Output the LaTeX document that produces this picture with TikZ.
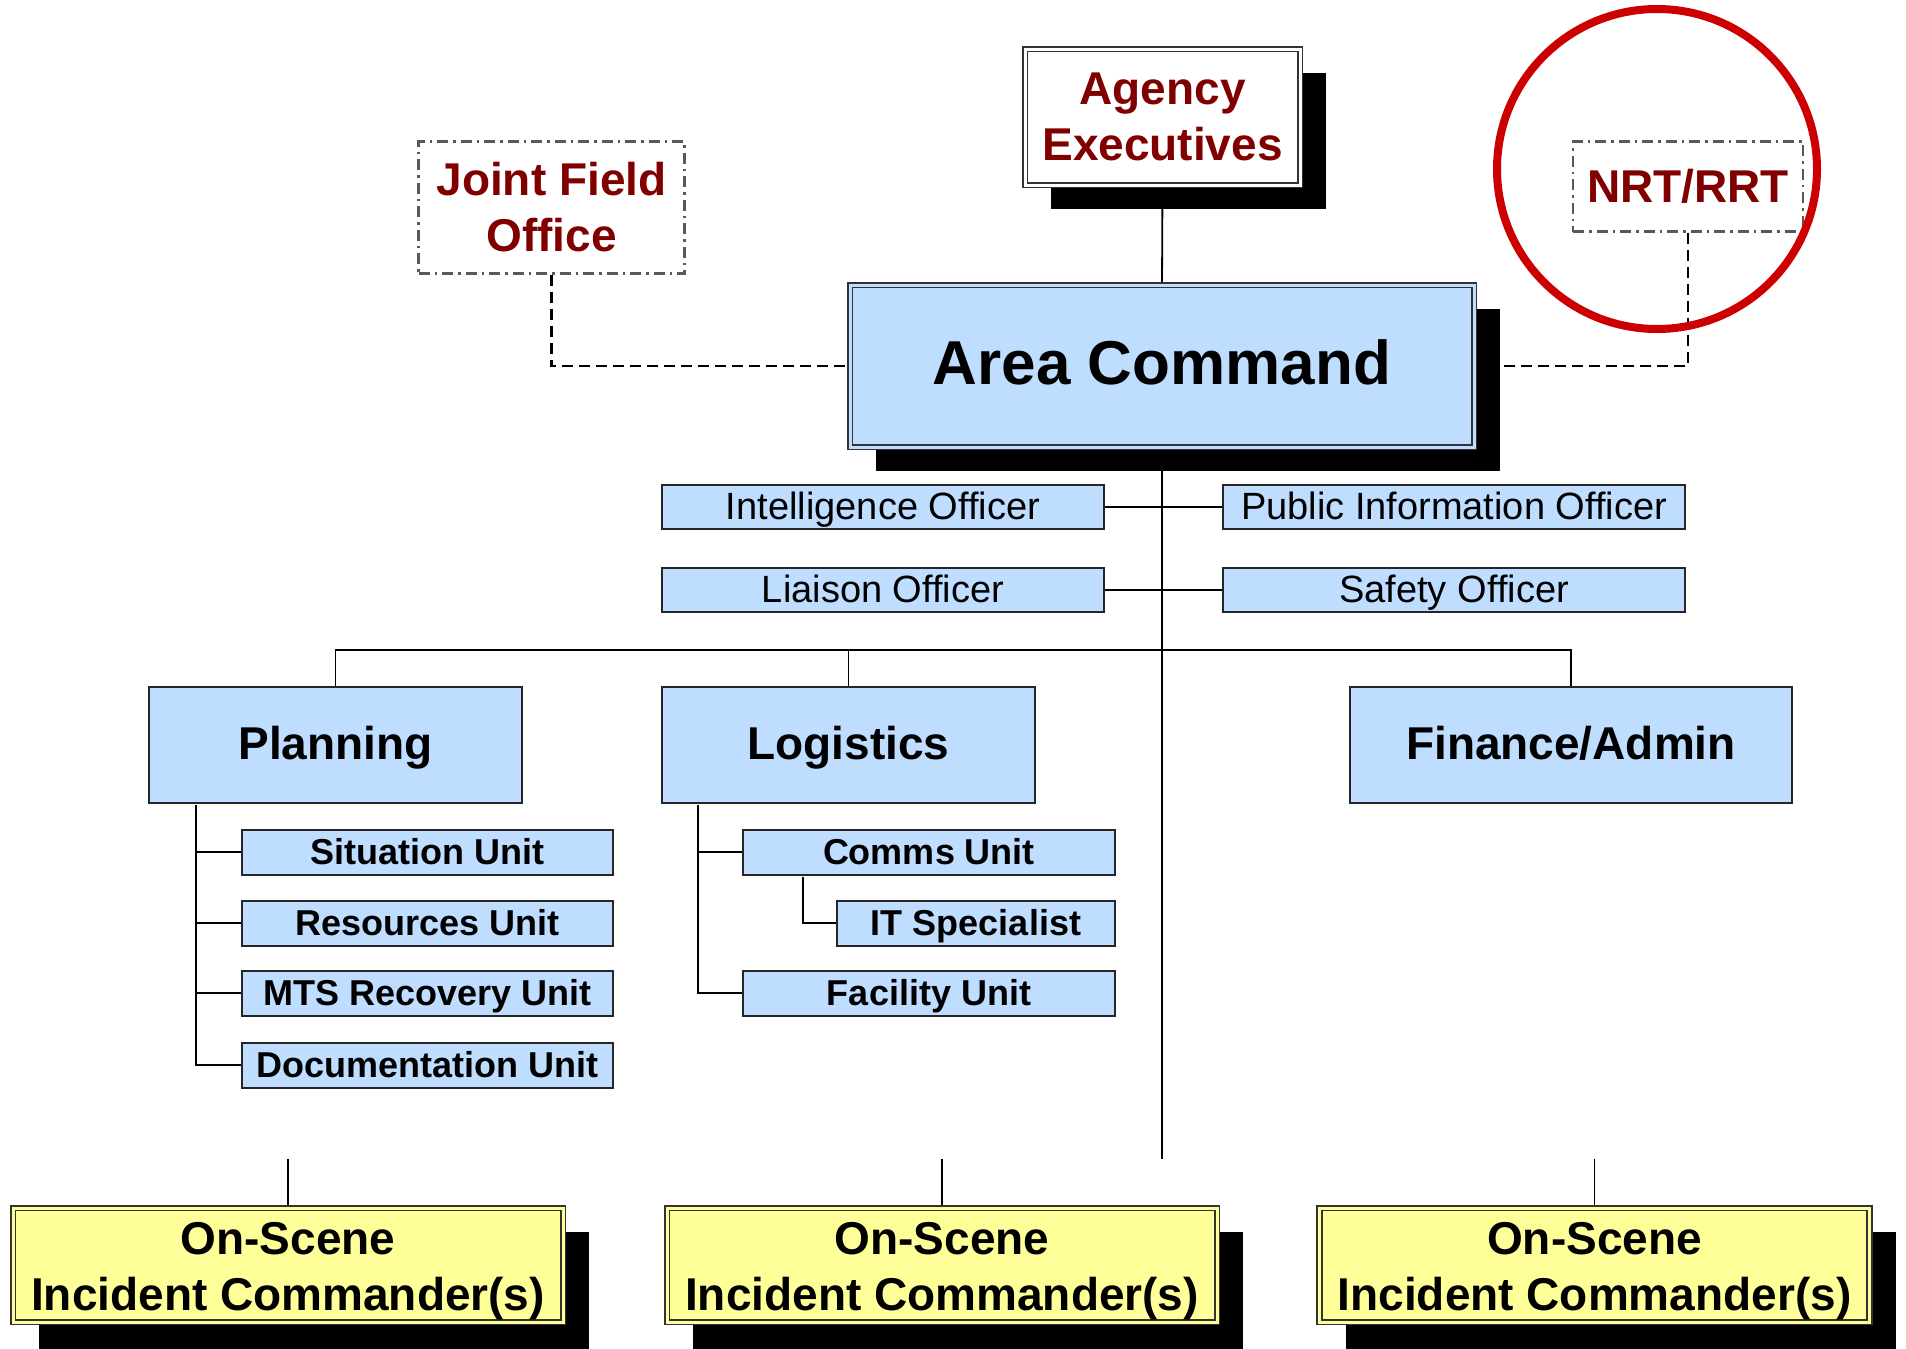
\documentclass[tikz,border=0pt]{standalone}
\usepackage{fontspec}
\setmainfont{Liberation Sans}
\usetikzlibrary{shadows}
\definecolor{boxblue}{RGB}{191,222,255}
\definecolor{boxyellow}{RGB}{255,255,153}
\definecolor{darkred}{RGB}{128,0,0}
\definecolor{circred}{RGB}{204,0,0}
\pgfdeclarelayer{bg}
\pgfsetlayers{bg,main}
\tikzset{
  conn/.style={draw=black, line width=1.8pt},
  dashconn/.style={draw=black, line width=2.5pt, dash pattern=on 11pt off 6pt},
  dotbox/.style={draw=black!65, line width=2.5pt, dash pattern=on 11pt off 5pt on 2.5pt off 5pt,
    fill=white, align=center, text=darkred, inner sep=0pt,
    font=\fontsize{46}{56}\selectfont\bfseries},
  blkshadow/.style={general shadow={fill=black, shadow xshift=26pt, shadow yshift=-24pt}},
  dblbox/.style={draw=black!80, line width=1.6pt, double distance=3pt, inner sep=0pt,
    align=center, blkshadow},
  offbox/.style={draw=black!85, line width=2pt, fill=boxblue, inner sep=0pt,
    font=\fontsize{38}{42}\selectfont, minimum height=44pt, text height=30pt, text depth=5pt},
  unitbox/.style={draw=black!85, line width=2pt, fill=boxblue, inner sep=0pt,
    font=\fontsize{36}{40}\selectfont\bfseries, minimum height=45pt, text height=29pt, text depth=5pt},
  secbox/.style={draw=black!85, line width=2pt, fill=boxblue, inner sep=0pt,
    font=\fontsize{46}{50}\selectfont\bfseries, minimum height=116pt, text height=36pt, text depth=7pt},
  osbox/.style={dblbox, general shadow={fill=black, shadow xshift=26pt, shadow yshift=-28pt},
    fill=boxyellow, double=boxyellow, minimum width=550pt, minimum height=114pt,
    text height=100pt, text depth=10pt,
    font=\fontsize{46}{56}\selectfont\bfseries}
}
\begin{document}
\begin{tikzpicture}[x=1pt, y=-1pt]
\useasboundingbox (0,0) rectangle (1906,1349);

% top level
\node[dblbox, fill=white, double=white, text=darkred, font=\fontsize{46}{56}\selectfont\bfseries,
  minimum width=275pt, minimum height=136pt] (ae) at (1162.5,117) {Agency\\Executives};
\node[dotbox, minimum width=266pt, minimum height=132pt] (jfo) at (551.5,207.5) {Joint Field\\Office};
\node[dotbox, minimum width=230pt, minimum height=90pt] (nrt) at (1688,186.5) {NRT/RRT};
\node[dblbox, fill=boxblue, double=boxblue, font=\fontsize{62}{70}\selectfont\bfseries,
  text height=45pt, text depth=8pt,
  minimum width=624pt, minimum height=162pt] (ac) at (1162,366) {Area Command};

% officers
\node[offbox, minimum width=442pt] (intel) at (883,507) {Intelligence Officer};
\node[offbox, minimum width=462pt] (pio) at (1454,507) {Public Information Officer};
\node[offbox, minimum width=442pt] (liai) at (883,590) {Liaison Officer};
\node[offbox, minimum width=462pt] (safe) at (1454,590) {Safety Officer};

% sections
\node[secbox, minimum width=373pt] (plan) at (335.5,745) {Planning};
\node[secbox, minimum width=373pt] (log) at (848.5,745) {Logistics};
\node[secbox, minimum width=442pt] (fin) at (1571,745) {Finance/Admin};

% planning units
\node[unitbox, minimum width=371pt] (sit) at (427.5,852) {Situation Unit};
\node[unitbox, minimum width=371pt] (res) at (427.5,923) {Resources Unit};
\node[unitbox, minimum width=371pt] (mts) at (427.5,993) {MTS Recovery Unit};
\node[unitbox, minimum width=371pt] (doc) at (427.5,1065) {Documentation Unit};

% logistics units
\node[unitbox, minimum width=372pt] (comms) at (929,852) {Comms Unit};
\node[unitbox, minimum width=278pt] (it) at (976,923) {IT Specialist};
\node[unitbox, minimum width=372pt] (fac) at (929,993) {Facility Unit};

% on-scene
\node[osbox] (os1) at (288,1265) {On-Scene\\Incident Commander(s)};
\node[osbox] (os2) at (942,1265) {On-Scene\\Incident Commander(s)};
\node[osbox] (os3) at (1594.5,1265) {On-Scene\\Incident Commander(s)};

% helper coordinates
\coordinate (bus) at (1162,650);
\coordinate (cend) at (1162,1159);
\coordinate (ptop) at (196,805);
\coordinate (ltop) at (698,805);
\coordinate (ctop) at (803,877);
\coordinate (s1) at (288,1159);
\coordinate (s2) at (942,1159);
\coordinate (s3) at (1594.5,1159);

\begin{pgfonlayer}{bg}
  \fill[white] (0,0) rectangle (1906,1349);
  \draw[conn] (ae.south) -- (ac.north);
  \draw[conn] (ac.south) -- (cend);
  \draw[conn] (intel.east) -- (pio.west);
  \draw[conn] (liai.east) -- (safe.west);
  \draw[conn] (plan.north) -- (plan.north |- bus) -- (fin.north |- bus) -- (fin.north);
  \draw[conn] (log.north) -- (log.north |- bus);
  \draw[conn] (ptop) |- (doc.west);
  \draw[conn] (sit.west) -- (sit.west -| ptop);
  \draw[conn] (res.west) -- (res.west -| ptop);
  \draw[conn] (mts.west) -- (mts.west -| ptop);
  \draw[conn] (ltop) |- (fac.west);
  \draw[conn] (comms.west) -- (comms.west -| ltop);
  \draw[conn] (ctop) |- (it.west);
  \draw[conn] (s1) -- (os1.north);
  \draw[conn] (s2) -- (os2.north);
  \draw[conn] (s3) -- (os3.north);
  \draw[dashconn] (jfo.south) |- (ac.west);
  \draw[dashconn] (nrt.south) |- (ac.east);
\end{pgfonlayer}

% highlight circle
\draw[circred, line width=8pt] (1657,169) circle (160pt);
\end{tikzpicture}
\end{document}
